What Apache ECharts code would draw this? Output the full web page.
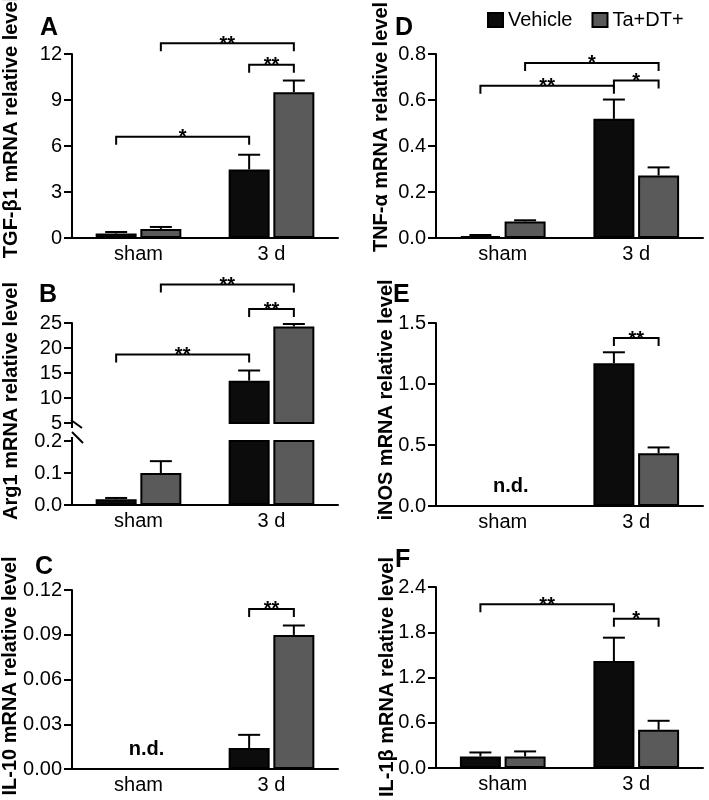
<!DOCTYPE html>
<html><head><meta charset="utf-8">
<script src="https://cdn.jsdelivr.net/npm/echarts@6/dist/echarts.min.js"></script>
<style>html,body{margin:0;padding:0;background:#fff}#c{width:709px;height:800px}</style>
</head><body><div id="c"></div>
<script>
// ---------- data ----------
const categories = ['sham', '3 d'];
const seriesNames = ['Vehicle', 'Ta+DT+'];

// A: TGF-β1
const tgfVehicle = [0.29, 4.47];
const tgfVehicleErr = [0.10, 0.96];
const tgfTa = [0.59, 9.51];
const tgfTaErr = [0.13, 0.76];
const tgfTicks = [0, 3, 6, 9, 12];
const tgfBrackets = [[0, 0, 1, 0, 6.6, '*'], [0, 1, 1, 1, 12.7, '**'], [1, 0, 1, 1, 11.3, '**']];

// B: Arg1 (broken axis)
const arg1Vehicle = [0.018, 13.46];
const arg1VehicleErr = [0.004, 2.04];
const arg1Ta = [0.100, 24.3];
const arg1TaErr = [0.037, 0.5];
const arg1TicksUpper = [5, 10, 15, 20, 25];
const arg1TicksLower = [0, 0.1, 0.2];
const arg1Brackets = [[0, 0, 1, 0, 18.7, '**'], [0, 1, 1, 1, 32.7, '**'], [1, 0, 1, 1, 27.8, '**']];

// C: IL-10
const il10Vehicle = [null, 0.0141];
const il10VehicleErr = [null, 0.0088];
const il10Ta = [null, 0.0899];
const il10TaErr = [null, 0.0063];
const il10Ticks = [0, 0.03, 0.06, 0.09, 0.12];
const il10Brackets = [[1, 0, 1, 1, 0.1073, '**']];
const il10Notes = ['n.d.', ''];

// D: TNF-α
const tnfVehicle = [0.008, 0.518];
const tnfVehicleErr = [0.005, 0.084];
const tnfTa = [0.072, 0.272];
const tnfTaErr = [0.005, 0.035];
const tnfTicks = [0, 0.2, 0.4, 0.6, 0.8];
const tnfBrackets = [[0, 0, 1, 0, 0.662, '**'], [0, 1, 1, 1, 0.761, '*'], [1, 0, 1, 1, 0.685, '*']];

// E: iNOS
const inosVehicle = [null, 1.17];
const inosVehicleErr = [null, 0.09];
const inosTa = [null, 0.433];
const inosTaErr = [null, 0.047];
const inosTicks = [0, 0.5, 1.0, 1.5];
const inosBrackets = [[1, 0, 1, 1, 1.377, '**']];
const inosNotes = ['n.d.', ''];

// F: IL-1β
const il1bVehicle = [0.153, 1.418];
const il1bVehicleErr = [0.053, 0.31];
const il1bTa = [0.153, 0.506];
const il1bTaErr = [0.067, 0.12];
const il1bTicks = [0, 0.6, 1.2, 1.8, 2.4];
const il1bBrackets = [[0, 0, 1, 0, 2.17, '**'], [1, 0, 1, 1, 1.98, '*']];

// ---------- style / layout ----------
const FONT = '"Liberation Sans", Arial, Helvetica, sans-serif';
const BAR_W = 41, BAR_GAP_PX = 3.7;
const COLORS = ['#0c0c0c', '#5a5a5a'];
const STEP = (BAR_W + BAR_GAP_PX) / 2;

const opt = {
  animation: false,
  backgroundColor: '#fff',
  grid: [], xAxis: [], yAxis: [], series: [], graphic: [],
  legend: {
    data: seriesNames, left: 487, top: 10, itemWidth: 15, itemHeight: 14, itemGap: 19,
    padding: 0, icon: 'rect', selectedMode: false,
    textStyle: { fontSize: 20, fontFamily: FONT, color: '#000' }
  }
};

function addGrid(rect, ticks, digits, showX) {
  const gi = opt.grid.length;
  opt.grid.push({ left: rect[0], top: rect[1], width: rect[2], height: rect[3] });
  opt.xAxis.push({
    type: 'category', gridIndex: gi, data: categories, show: showX,
    axisLine: { lineStyle: { color: '#000', width: 2 } },
    axisTick: { show: false },
    axisLabel: { color: '#000', fontSize: 20, fontFamily: FONT, margin: 6 }
  });
  opt.yAxis.push({
    type: 'value', gridIndex: gi, min: ticks[0], max: ticks[ticks.length - 1],
    interval: ticks[1] - ticks[0],
    splitLine: { show: false },
    axisLine: { show: true, lineStyle: { color: '#000', width: 2 } },
    axisTick: { show: true, length: 8, lineStyle: { color: '#000', width: 2 } },
    axisLabel: { color: '#000', fontSize: 20, fontFamily: FONT, margin: 10,
      formatter: v => Number(v).toFixed(digits) }
  });
  return gi;
}

function addBars(gi, vals) {
  vals.forEach((v, s) => opt.series.push({
    type: 'bar', name: seriesNames[s], xAxisIndex: gi, yAxisIndex: gi,
    data: v.map(x => x == null ? '-' : x),
    barWidth: BAR_W, barGap: (BAR_GAP_PX / BAR_W * 100).toFixed(1) + '%',
    itemStyle: { color: COLORS[s], borderColor: '#000', borderWidth: 2 },
    clip: true, z: 2, silent: true
  }));
}

function addErr(gi, vals, errs) {
  const data = [];
  vals.forEach((v, s) => v.forEach((y, i) => { if (y != null) data.push([i, y, errs[s][i], s]); }));
  opt.series.push({
    type: 'custom', xAxisIndex: gi, yAxisIndex: gi, clip: true, z: 3, silent: true,
    data, encode: { x: 0, y: 1 },
    renderItem: (p, api) => {
      const off = api.value(3) === 0 ? -STEP : STEP;
      const b = api.coord([api.value(0), api.value(1)]);
      const t = api.coord([api.value(0), api.value(1) + api.value(2)]);
      const x = b[0] + off, cw = 11;
      return { type: 'group', children: [
        { type: 'line', shape: { x1: x, y1: b[1], x2: x, y2: t[1] }, style: { stroke: '#000', lineWidth: 2 } },
        { type: 'line', shape: { x1: x - cw, y1: t[1], x2: x + cw, y2: t[1] }, style: { stroke: '#000', lineWidth: 2 } }
      ] };
    }
  });
}

function addBrackets(gi, list) {
  opt.series.push({
    type: 'custom', xAxisIndex: gi, yAxisIndex: gi, clip: false, z: 4, silent: true,
    data: list.map(b => [b[0], b[4]]), encode: { x: 0, y: 1 },
    renderItem: (p, api) => {
      const b = list[p.dataIndex];
      const p1 = api.coord([b[0], b[4]]), p2 = api.coord([b[2], b[4]]);
      const x1 = p1[0] + (b[1] === 0 ? -STEP : STEP);
      const x2 = p2[0] + (b[3] === 0 ? -STEP : STEP);
      const y = p1[1], d = 8;
      return { type: 'group', children: [
        { type: 'polyline', shape: { points: [[x1, y + d], [x1, y], [x2, y], [x2, y + d]] },
          style: { stroke: '#000', lineWidth: 2, fill: 'none' } },
        { type: 'text', x: (x1 + x2) / 2, y: y + 1,
          style: { text: b[5], font: 'bold 20px ' + FONT, fill: '#000', align: 'center', verticalAlign: 'middle' } }
      ] };
    }
  });
}

function addNotes(gi, notes) {
  const data = [];
  notes.forEach((n, i) => { if (n) data.push([i, 0]); });
  const idx = notes.map((n, i) => n ? i : -1).filter(i => i >= 0);
  opt.series.push({
    type: 'custom', xAxisIndex: gi, yAxisIndex: gi, clip: false, z: 4, silent: true,
    data, encode: { x: 0, y: 1 },
    renderItem: (p, api) => {
      const c = api.coord([api.value(0), api.value(1)]);
      return { type: 'text', x: c[0] + 8, y: c[1] - 10,
        style: { text: notes[idx[p.dataIndex]], font: 'bold 20px ' + FONT, fill: '#000', align: 'center', verticalAlign: 'bottom' } };
    }
  });
}

function addTitle(text, x, y) {
  opt.graphic.push({ type: 'text', x, y, rotation: Math.PI / 2,
    style: { text, font: 'bold 20px ' + FONT, fill: '#000', align: 'center', verticalAlign: 'middle' } });
}
function addLetter(text, x, y) {
  opt.graphic.push({ type: 'text', x, y,
    style: { text, font: 'bold 25px ' + FONT, fill: '#000', align: 'left', verticalAlign: 'middle' } });
}

// ---------- panels ----------
const L = 72, R = 436, WL = 266, WR = 267;
// A
let g = addGrid([L, 54, WL, 184], tgfTicks, 0, true);
addBars(g, [tgfVehicle, tgfTa]); addErr(g, [tgfVehicle, tgfTa], [tgfVehicleErr, tgfTaErr]); addBrackets(g, tgfBrackets);
// B upper / lower
const BUP = [L, 323, WL, 100], BLO = [L, 441, WL, 64];
let gu = addGrid(BUP, arg1TicksUpper, 0, false);
addBars(gu, [arg1Vehicle, arg1Ta]); addErr(gu, [arg1Vehicle, arg1Ta], [arg1VehicleErr, arg1TaErr]); addBrackets(gu, arg1Brackets);
let gl = addGrid(BLO, arg1TicksLower, 1, true);
addBars(gl, [arg1Vehicle, arg1Ta]); addErr(gl, [arg1Vehicle, arg1Ta], [arg1VehicleErr, arg1TaErr]);
// C
g = addGrid([L, 590, WL, 179], il10Ticks, 2, true);
addBars(g, [il10Vehicle, il10Ta]); addErr(g, [il10Vehicle, il10Ta], [il10VehicleErr, il10TaErr]); addBrackets(g, il10Brackets); addNotes(g, il10Notes);
// D
g = addGrid([R, 54, WR, 184], tnfTicks, 1, true);
addBars(g, [tnfVehicle, tnfTa]); addErr(g, [tnfVehicle, tnfTa], [tnfVehicleErr, tnfTaErr]); addBrackets(g, tnfBrackets);
// E
g = addGrid([R, 323, WR, 183], inosTicks, 1, true);
addBars(g, [inosVehicle, inosTa]); addErr(g, [inosVehicle, inosTa], [inosVehicleErr, inosTaErr]); addBrackets(g, inosBrackets); addNotes(g, inosNotes);
// F
g = addGrid([R, 587, WR, 181], il1bTicks, 1, true);
addBars(g, [il1bVehicle, il1bTa]); addErr(g, [il1bVehicle, il1bTa], [il1bVehicleErr, il1bTaErr]); addBrackets(g, il1bBrackets);

// axis titles & panel letters
addTitle('TGF-β1 mRNA relative level', 11, 127);
addTitle('Arg1 mRNA relative level', 11, 401);
addTitle('IL-10 mRNA relative level', 10, 676);
addTitle('TNF-α mRNA relative level', 381, 127);
addTitle('iNOS mRNA relative level', 386, 400);
addTitle('IL-1β mRNA relative level', 387, 677);
addLetter('A', 40, 28); addLetter('B', 39, 295); addLetter('C', 35, 567);
addLetter('D', 395, 28); addLetter('E', 393, 295); addLetter('F', 395, 560);

// axis break marks for B
const upB = BUP[1] + BUP[3], loT = BLO[1];
const ls = { stroke: '#000', lineWidth: 2 };
opt.graphic.push({ type: 'line', shape: { x1: L, y1: upB, x2: L, y2: upB + 5 }, style: ls });
opt.graphic.push({ type: 'line', shape: { x1: L - 1, y1: upB - 3, x2: L + 10, y2: upB + 5 }, style: ls });
opt.graphic.push({ type: 'line', shape: { x1: L, y1: loT - 4, x2: L, y2: loT }, style: ls });
opt.graphic.push({ type: 'line', shape: { x1: L, y1: loT - 9, x2: L + 11, y2: loT + 2 }, style: ls });

const chart = echarts.init(document.getElementById('c'), null, { renderer: 'canvas' });
chart.setOption(opt);
</script>
</body></html>
